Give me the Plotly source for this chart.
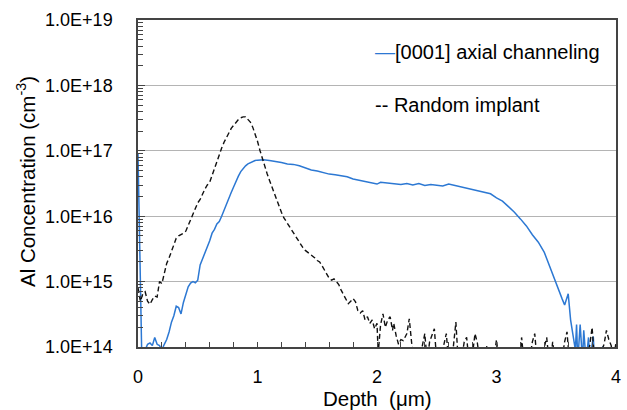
import plotly.graph_objects as go

# ---- data: [0001] axial channeling ----
chan_depth = [0.00, 0.01, 0.02, 0.03, 0.04, 0.06, 0.08, 0.10, 0.12, 0.14, 0.16, 0.18, 0.20,
              0.22, 0.24, 0.26, 0.28, 0.30, 0.32, 0.34, 0.36, 0.38, 0.40, 0.42, 0.44, 0.46,
              0.48, 0.50, 0.52, 0.54, 0.56, 0.58, 0.60, 0.62, 0.64, 0.66, 0.68, 0.70, 0.72,
              0.74, 0.76, 0.78, 0.80, 0.82, 0.84, 0.86, 0.88, 0.90, 0.92, 0.94, 0.96, 0.98,
              1.00, 1.05, 1.10, 1.15, 1.20, 1.25, 1.30, 1.35, 1.40, 1.45, 1.50, 1.55, 1.60,
              1.65, 1.70, 1.75, 1.80, 1.85, 1.90, 1.95, 2.00, 2.03, 2.06, 2.10, 2.15, 2.20,
              2.25, 2.30, 2.35, 2.40, 2.45, 2.50, 2.55, 2.60, 2.65, 2.70, 2.75, 2.80, 2.85,
              2.90, 2.95, 3.00, 3.05, 3.10, 3.15, 3.20, 3.25, 3.30, 3.35, 3.40, 3.43, 3.46,
              3.49, 3.52, 3.55, 3.57, 3.59, 3.60, 3.62, 3.64, 3.66, 3.67, 3.68, 3.70, 3.72,
              3.73, 3.75, 3.77, 3.78, 3.81, 3.82, 3.85, 3.89, 3.90, 4.00]
chan_conc = [9.0e16, 1.6e16, 1.0e15, 1.0e14, 5e13, 9e13, 1.1e14, 1.15e14, 1.05e14, 1.4e14,
             1.1e14, 1.05e14, 9e13, 1.1e14, 1.3e14, 1.7e14, 2.4e14, 3.0e14, 4.2e14, 4.0e14,
             3.2e14, 4.8e14, 6.6e14, 8.3e14, 9.5e14, 1.0e15, 9.6e14, 1.05e15, 1.8e15, 2.2e15,
             2.8e15, 3.3e15, 4.2e15, 5.5e15, 6.3e15, 7.6e15, 8.3e15, 1.0e16, 1.25e16, 1.5e16,
             1.85e16, 2.3e16, 2.8e16, 3.5e16, 4.1e16, 4.8e16, 5.4e16, 5.9e16, 6.3e16, 6.6e16,
             6.8e16, 7.1e16, 7.2e16, 7.3e16, 7.1e16, 6.9e16, 6.6e16, 6.3e16, 6.2e16, 5.9e16,
             5.5e16, 5.1e16, 4.9e16, 4.6e16, 4.4e16, 4.3e16, 4.1e16, 4.0e16, 3.7e16, 3.55e16,
             3.45e16, 3.25e16, 3.1e16, 3.3e16, 3.25e16, 3.15e16, 3.1e16, 3.05e16, 3.15e16,
             3.0e16, 3.15e16, 2.95e16, 3.05e16, 2.95e16, 2.9e16, 3.1e16, 2.95e16, 2.8e16,
             2.7e16, 2.6e16, 2.45e16, 2.3e16, 2.2e16, 1.9e16, 1.7e16, 1.4e16, 1.15e16, 9.1e15,
             7.1e15, 5.2e15, 4.0e15, 2.8e15, 2.0e15, 1.4e15, 1.07e15, 7.1e14, 5.4e14, 4.4e14,
             5.5e14, 6.5e14, 2.6e14, 1.6e14, 9e13, 2.2e14, 6e13, 2.2e14, 6e13, 1.8e14, 6e13,
             1.4e14, 6e13, 1.45e14, 6e13, 5e13, 1.02e14, 5e13, 5e13]

# ---- data: random implant ----
rand_depth = [0.00, 0.02, 0.04, 0.06, 0.08, 0.10, 0.12, 0.14, 0.16, 0.18, 0.20, 0.22, 0.24,
              0.26, 0.28, 0.30, 0.32, 0.34, 0.36, 0.38, 0.40, 0.42, 0.44, 0.46, 0.48, 0.50,
              0.52, 0.54, 0.56, 0.58, 0.60, 0.62, 0.64, 0.66, 0.68, 0.70, 0.72, 0.74, 0.76,
              0.78, 0.80, 0.82, 0.84, 0.86, 0.88, 0.90, 0.92, 0.94, 0.96, 0.98, 1.00, 1.02,
              1.04, 1.06, 1.08, 1.10, 1.12, 1.14, 1.16, 1.18, 1.20, 1.22, 1.24, 1.26, 1.28,
              1.30, 1.32, 1.34, 1.36, 1.38, 1.40, 1.42, 1.44, 1.46, 1.48, 1.50, 1.52, 1.54,
              1.56, 1.58, 1.60, 1.62, 1.64, 1.66, 1.68, 1.70, 1.72, 1.74, 1.76, 1.78, 1.80,
              1.82, 1.84, 1.86, 1.88, 1.90, 1.92, 1.94, 1.96, 1.98, 2.00, 2.01, 2.03, 2.05,
              2.07, 2.09, 2.11, 2.13, 2.14, 2.16, 2.18, 2.20, 2.22, 2.25, 2.27, 2.29, 2.31,
              2.33, 2.36, 2.40, 2.42, 2.44, 2.46, 2.48, 2.50, 2.53, 2.56, 2.58, 2.60, 2.63,
              2.66, 2.68, 2.71, 2.73, 2.75, 2.77, 2.80, 2.82, 2.84, 2.86, 2.90, 2.92, 2.94,
              2.98, 3.00, 3.02, 3.10, 3.13, 3.15, 3.20, 3.21, 3.23, 3.28, 3.30, 3.32, 3.34,
              3.38, 3.40, 3.42, 3.44, 3.46, 3.47, 3.49, 3.55, 3.57, 3.59, 3.61, 3.65, 3.70,
              3.75, 3.78, 3.80, 3.82, 3.86, 3.90, 3.92, 3.94, 3.96, 3.98, 4.00]
rand_conc = [8e14, 5e14, 6.5e14, 7e14, 5e14, 4.5e14, 5.3e14, 6e14, 5.8e14, 1.0e15, 9.3e14,
             1.4e15, 1.9e15, 2.3e15, 2.9e15, 3.6e15, 4.6e15, 5.0e15, 5.2e15, 5.5e15, 5.9e15,
             7.2e15, 9.1e15, 1.12e16, 1.35e16, 1.6e16, 1.8e16, 2.2e16, 2.6e16, 3.0e16, 3.3e16,
             4.2e16, 5.4e16, 6.9e16, 8.7e16, 1.1e17, 1.35e17, 1.6e17, 1.9e17, 2.2e17, 2.45e17,
             2.75e17, 3.0e17, 3.2e17, 3.3e17, 3.3e17, 3.0e17, 2.75e17, 2.3e17, 1.85e17, 1.4e17,
             1.02e17, 7.6e16, 5.6e16, 4.5e16, 3.55e16, 2.8e16, 2.3e16, 1.8e16, 1.45e16, 1.15e16,
             9.5e15, 8.3e15, 7.4e15, 6.3e15, 5.6e15, 4.8e15, 4.2e15, 3.6e15, 3.3e15, 3.0e15,
             2.8e15, 2.65e15, 2.5e15, 2.3e15, 2.1e15, 2.0e15, 1.75e15, 1.5e15, 1.3e15, 1.12e15,
             1.05e15, 1.1e15, 1.0e15, 9e14, 7.4e14, 6.3e14, 5.3e14, 4.6e14, 5.0e14, 5.5e14,
             4.9e14, 3.6e14, 3.3e14, 3.6e14, 2.6e14, 2.9e14, 2.3e14, 2.6e14, 1.9e14, 2.3e14,
             8e13, 2.2e14, 3.2e14, 2.0e14, 2.6e14, 2.9e14, 1.8e14, 2.3e14, 1.5e14, 1.1e14,
             1.3e14, 1.25e14, 1.6e14, 2.7e14, 1.15e14, 7e13, 6e13, 7e13, 1.6e14, 6e13, 1.2e14,
             1.5e14, 1.9e14, 6e13, 6e13, 1.1e14, 1.6e14, 6e13, 7e13, 2.4e14, 6e13, 7e13, 1.2e14,
             1.4e14, 6e13, 8e13, 1.6e14, 1.15e14, 6e13, 7e13, 1.05e14, 6e13, 7e13, 1.3e14, 6e13,
             6e13, 7e13, 6e13, 8e13, 1.4e14, 6e13, 7e13, 1.2e14, 1.6e14, 6e13, 7e13, 1.05e14,
             1.4e14, 6e13, 8e13, 1.2e14, 6e13, 7e13, 1.2e14, 1.7e14, 6e13, 6e13, 7e13, 6e13,
             1.05e14, 2.0e14, 6e13, 7e13, 1.1e14, 1.8e14, 1.3e14, 1.05e14, 6e13, 1.2e14]

# ---- tick labels ----
y_tickvals = [1e14, 1e15, 1e16, 1e17, 1e18, 1e19]
y_ticktext = ["1.0E+14", "1.0E+15", "1.0E+16", "1.0E+17", "1.0E+18", "1.0E+19"]
x_tickvals = [0, 1, 2, 3, 4]
x_ticktext = ["0", "1", "2", "3", "4"]

legend_labels = ["[0001] axial channeling", "Random implant"]
x_title = "Depth  (μm)"
y_title = "Al Concentration (cm<sup>-3</sup>)"

FONT = "Liberation Sans, Arial, sans-serif"
BLUE = "#2c78d3"
AXC = "#444444"

fig = go.Figure()
fig.add_trace(go.Scatter(x=chan_depth, y=chan_conc, mode="lines", name=legend_labels[0],
                         line=dict(color=BLUE, width=1.5), showlegend=False))
fig.add_trace(go.Scatter(x=rand_depth, y=rand_conc, mode="lines", name=legend_labels[1],
                         line=dict(color="#111111", width=1.4, dash="5px,3px"), showlegend=False))

fig.update_layout(
    width=627, height=410,
    margin=dict(l=138, r=11, t=20, b=63),
    paper_bgcolor="white", plot_bgcolor="white",
    font=dict(family=FONT, size=18, color="black"),
    xaxis=dict(range=[0, 4], tickmode="array", tickvals=x_tickvals, ticktext=x_ticktext,
               ticks="inside", ticklen=5, tickcolor=AXC, tickwidth=1,
               minor=dict(ticks="inside", ticklen=5, tickcolor=AXC, dtick=0.2, showgrid=False),
               showline=True, linecolor=AXC, linewidth=1.5, mirror=True,
               showgrid=False, zeroline=False, ticklabelstandoff=13, automargin=False),
    yaxis=dict(type="log", range=[14, 19], tickmode="array", tickvals=y_tickvals,
               ticktext=y_ticktext, ticks="inside", ticklen=7, tickcolor=AXC,
               minor=dict(ticks="inside", ticklen=5, tickcolor=AXC, dtick="D1", showgrid=False),
               showline=True, linecolor=AXC, linewidth=1.5, mirror=True,
               showgrid=True, gridcolor="#b4b4b4", gridwidth=1, zeroline=False,
               ticklabelstandoff=20, automargin=False),
    annotations=[
        dict(x=0.5, y=-0.156, xref="paper", yref="paper", xanchor="center", yanchor="middle",
             showarrow=False, font=dict(size=20.5, color="black"), text=x_title),
        dict(x=-0.234, y=0.505, xref="paper", yref="paper", xanchor="center", yanchor="middle",
             showarrow=False, textangle=-90, font=dict(size=20.5, color="black"), text=y_title),
        dict(x=0.492, y=0.902, xref="paper", yref="paper", xanchor="left", yanchor="middle",
             showarrow=False, font=dict(size=20, color="black"),
             text="<span style='color:%s'>—</span>%s" % (BLUE, legend_labels[0])),
        dict(x=0.492, y=0.74, xref="paper", yref="paper", xanchor="left", yanchor="middle",
             showarrow=False, font=dict(size=20, color="black"),
             text="-- %s" % legend_labels[1]),
    ],
)

fig.write_html("out.html", config={"displayModeBar": False},
               post_script="document.body.style.margin='0';document.body.style.overflow='hidden';")
